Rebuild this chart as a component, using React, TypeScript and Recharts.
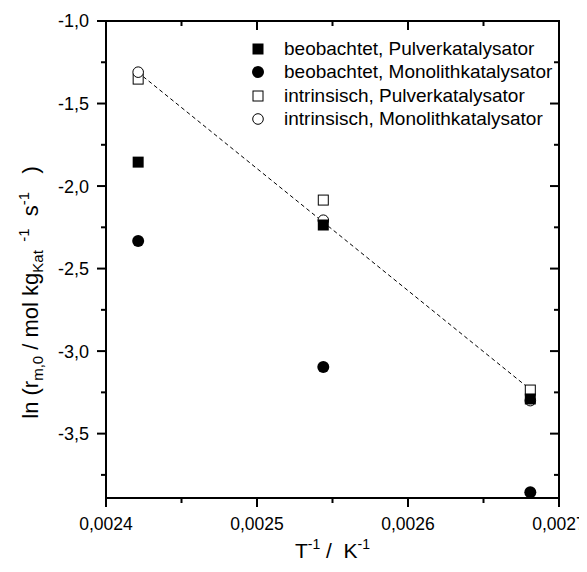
import { ScatterChart, Scatter, XAxis, YAxis, ReferenceLine } from 'recharts'

// T^-1 in 1/K (413 K, 393 K, 373 K)
const invTemp = [0.0024213, 0.0025439, 0.002681]

const obsPowder = [-1.855, -2.236, -3.29]
const obsMonolith = [-2.333, -3.097, -3.855]
const intPowder = [-1.352, -2.085, -3.236]
const intMonolith = [-1.31, -2.207, -3.3]

// dashed fit through the intrinsic points
const fitX = [0.002421, 0.00268]
const fitY = [-1.31, -3.225]

const xTicks = [0.0024, 0.00245, 0.0025, 0.00255, 0.0026, 0.00265, 0.0027]
const yTicks = [-1, -1.25, -1.5, -1.75, -2, -2.25, -2.5, -2.75, -3, -3.25, -3.5, -3.75]
const xDomain = [0.0024, 0.0027]
const yDomain = [-3.89, -1]

const FONT = '"Liberation Sans", Arial, Helvetica, sans-serif'

const W = 579
const H = 556
const MARGIN = { top: 13, right: 28, bottom: 0, left: 0 }
const Y_AXIS_W = 98
const X_AXIS_H = 66
const PLOT_W = W - MARGIN.left - MARGIN.right - Y_AXIS_W
const PLOT_H = H - MARGIN.top - MARGIN.bottom - X_AXIS_H

const toPoints = (ys: number[]) => ys.map((y, i) => ({ x: invTemp[i], y }))
const fitData = fitX.map((x, i) => ({ x, y: fitY[i] }))

const isMajorY = (v: number) => Math.abs(v * 2 - Math.round(v * 2)) < 1e-6
const isMajorX = (v: number) => Math.abs(v * 10000 - Math.round(v * 10000)) < 1e-6

type Kind = 'filledSquare' | 'filledCircle' | 'openSquare' | 'openCircle'

function Marker({ kind, cx, cy }: { kind: Kind; cx: number; cy: number }) {
  if (kind === 'filledSquare') return <rect x={cx - 5.5} y={cy - 5.5} width={11} height={11} fill="#000" />
  if (kind === 'filledCircle') return <circle cx={cx} cy={cy} r={6} fill="#000" />
  if (kind === 'openSquare')
    return <rect x={cx - 5} y={cy - 5} width={10} height={10} fill="#fff" stroke="#000" strokeWidth={1} />
  return <circle cx={cx} cy={cy} r={5.3} fill="#fff" stroke="#000" strokeWidth={1} />
}

const legendItems: { label: string; kind: Kind }[] = [
  { label: 'beobachtet, Pulverkatalysator', kind: 'filledSquare' },
  { label: 'beobachtet, Monolithkatalysator', kind: 'filledCircle' },
  { label: 'intrinsisch, Pulverkatalysator', kind: 'openSquare' },
  { label: 'intrinsisch, Monolithkatalysator', kind: 'openCircle' },
]

function LegendBox() {
  return (
    <div style={{ position: 'absolute', left: 244, top: 29.4, fontFamily: FONT, fontSize: 19, color: '#000', pointerEvents: 'none' }}>
      {legendItems.map((item) => (
        <div key={item.label} style={{ display: 'flex', alignItems: 'center', height: 23.3, whiteSpace: 'nowrap' }}>
          <svg width={12} height={12} style={{ marginRight: 20, overflow: 'visible' }}>
            <Marker kind={item.kind} cx={6} cy={6} />
          </svg>
          <span>{item.label}</span>
        </div>
      ))}
    </div>
  )
}

// left ticks go outward, the mirrored ones on the right frame edge go inward
function LeftTick({ x, y, payload }: any) {
  const major = isMajorY(payload.value)
  const len = major ? 9 : 5
  return (
    <g>
      <line x1={x} x2={x - len} y1={y} y2={y} stroke="#000" strokeWidth={2} />
      <line x1={x + PLOT_W} x2={x + PLOT_W - len} y1={y} y2={y} stroke="#000" strokeWidth={2} />
      {major && (
        <text x={x - 17} y={y} dy="0.36em" textAnchor="end" fontSize={18} fontFamily={FONT} fill="#000">
          {payload.value.toFixed(1).replace('.', ',')}
        </text>
      )}
    </g>
  )
}

function BottomTick({ x, y, payload }: any) {
  const major = isMajorX(payload.value)
  const len = major ? 9 : 5
  return (
    <g>
      <line x1={x} x2={x} y1={y} y2={y + len} stroke="#000" strokeWidth={2} />
      <line x1={x} x2={x} y1={y - PLOT_H} y2={y - PLOT_H + len} stroke="#000" strokeWidth={2} />
      {major && (
        <text x={x} y={y + 32} textAnchor="middle" fontSize={17.5} fontFamily={FONT} fill="#000">
          {payload.value.toFixed(4).replace('.', ',')}
        </text>
      )}
    </g>
  )
}

function XTitle({ viewBox }: any) {
  const cx = viewBox.x + viewBox.width / 2
  return (
    <text x={cx} y={viewBox.y + 60} textAnchor="middle" fontSize={21} fontFamily={FONT} fill="#000" style={{ whiteSpace: 'pre' }}>
      T<tspan dy={-9} fontSize={14}>-1</tspan>
      <tspan dy={9}> /  K</tspan>
      <tspan dy={-9} fontSize={14}>-1</tspan>
    </text>
  )
}

function YTitle({ viewBox }: any) {
  const x = 30
  const y = viewBox.y + viewBox.height / 2 + 33
  return (
    <text
      x={x}
      y={y}
      textAnchor="middle"
      fontSize={22}
      fontFamily={FONT}
      fill="#000"
      transform={`rotate(-90, ${x}, ${y})`}
      style={{ whiteSpace: 'pre' }}
    >
      ln (r<tspan dy={5} fontSize={15}>m,0</tspan>
      <tspan dy={-5}> / mol kg</tspan>
      <tspan dy={5} fontSize={15}>Kat</tspan>
      <tspan dy={-14} fontSize={15}>  -1</tspan>
      <tspan dy={9}>  s</tspan>
      <tspan dy={-9} fontSize={15}>-1</tspan>
      <tspan dy={9}>   )</tspan>
    </text>
  )
}

export default function App() {
  return (
    <div style={{ position: 'relative', width: W, height: H }}>
      <ScatterChart width={W} height={H} margin={MARGIN}>
        <XAxis
          type="number"
          dataKey="x"
          domain={xDomain}
          ticks={xTicks}
          interval={0}
          height={X_AXIS_H}
          tickSize={0}
          tickMargin={0}
          tick={BottomTick}
          axisLine={{ stroke: '#000', strokeWidth: 2 }}
          label={{ content: XTitle }}
        />
        <YAxis
          type="number"
          dataKey="y"
          domain={yDomain}
          ticks={yTicks}
          interval={0}
          width={Y_AXIS_W}
          tickSize={0}
          tickMargin={0}
          tick={LeftTick}
          axisLine={{ stroke: '#000', strokeWidth: 2 }}
          label={{ content: YTitle }}
        />
        {/* frame: top and right edges */}
        <ReferenceLine y={yDomain[1]} stroke="#000" strokeWidth={2} />
        <ReferenceLine x={xDomain[1]} stroke="#000" strokeWidth={2} />
        <Scatter
          data={fitData}
          line={{ stroke: '#000', strokeWidth: 1, strokeDasharray: '4 3' }}
          shape={() => <g />}
          isAnimationActive={false}
        />
        <Scatter
          data={toPoints(intPowder)}
          shape={(p: any) => <Marker kind="openSquare" cx={p.cx} cy={p.cy} />}
          isAnimationActive={false}
        />
        <Scatter
          data={toPoints(intMonolith)}
          shape={(p: any) => <Marker kind="openCircle" cx={p.cx} cy={p.cy} />}
          isAnimationActive={false}
        />
        <Scatter
          data={toPoints(obsPowder)}
          shape={(p: any) => <Marker kind="filledSquare" cx={p.cx} cy={p.cy} />}
          isAnimationActive={false}
        />
        <Scatter
          data={toPoints(obsMonolith)}
          shape={(p: any) => <Marker kind="filledCircle" cx={p.cx} cy={p.cy} />}
          isAnimationActive={false}
        />
      </ScatterChart>
      {/* top/right frame edges as a plain overlay too */}
      <div
        style={{
          position: 'absolute',
          left: MARGIN.left + Y_AXIS_W - 1,
          top: MARGIN.top - 1,
          width: PLOT_W + 2,
          height: PLOT_H + 2,
          boxSizing: 'border-box',
          borderTop: '2px solid #000',
          borderRight: '2px solid #000',
          pointerEvents: 'none',
        }}
      />
      <LegendBox />
    </div>
  )
}
